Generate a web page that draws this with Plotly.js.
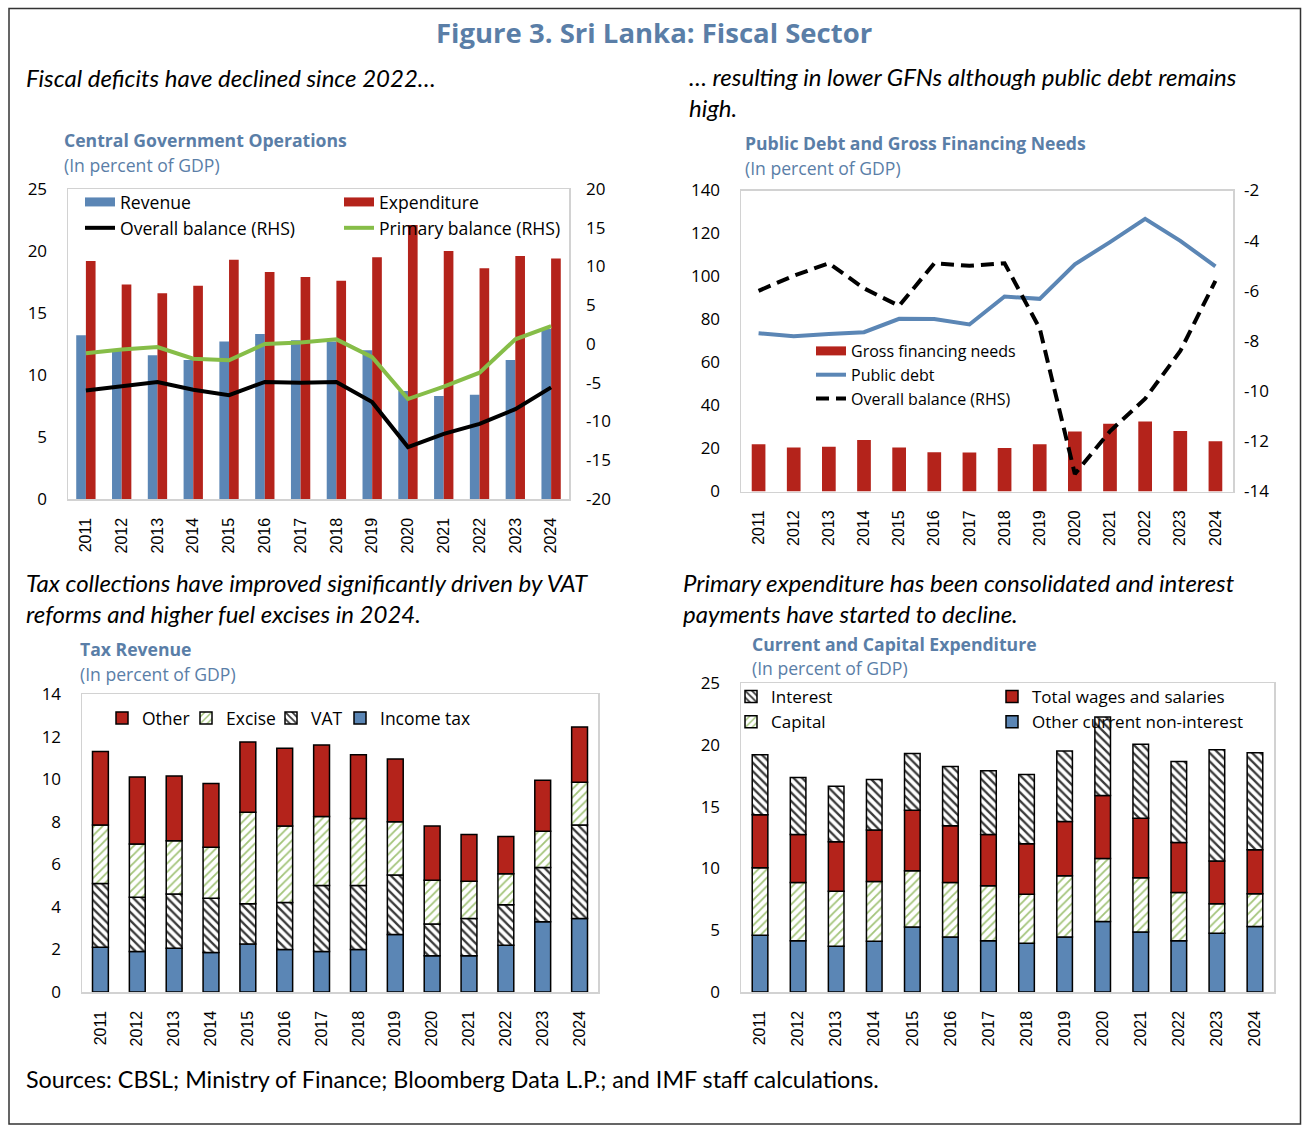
<!DOCTYPE html>
<html><head><meta charset="utf-8">
<script src="https://cdn.plot.ly/plotly-3.0.1.min.js"></script>
<style>html,body{margin:0;padding:0;background:#fff}#chart{width:1310px;height:1136px}</style>
</head><body><div id="chart"></div>
<script>
// ---------------- DATA ----------------
const years = ['2011','2012','2013','2014','2015','2016','2017','2018','2019','2020','2021','2022','2023','2024'];

// Central Government Operations (percent of GDP)
const revenue        = [13.2, 12.0, 11.6, 11.2, 12.7, 13.3, 12.8, 12.7, 12.0, 8.7, 8.3, 8.4, 11.2, 13.7];
const expenditure    = [19.2, 17.3, 16.6, 17.2, 19.3, 18.3, 17.9, 17.6, 19.5, 22.1, 20.0, 18.6, 19.6, 19.4];
const overallBalance = [-6.0, -5.4, -4.9, -5.9, -6.6, -4.9, -5.0, -4.9, -7.5, -13.3, -11.6, -10.3, -8.4, -5.6];
const primaryBalance = [-1.2, -0.7, -0.4, -1.9, -2.1, 0.0, 0.2, 0.6, -1.7, -7.1, -5.5, -3.7, 0.6, 2.3];

// Public Debt and Gross Financing Needs (percent of GDP)
const grossFinancingNeeds = [22.0, 20.5, 20.8, 23.9, 20.5, 18.3, 18.1, 20.2, 22.0, 27.9, 31.5, 32.6, 28.1, 23.4];
const publicDebt          = [73.6, 72.2, 73.2, 74.1, 80.3, 80.2, 77.7, 90.7, 89.6, 105.7, 116.0, 126.8, 116.6, 104.7];

// Tax Revenue (percent of GDP)
const incomeTax = [2.1, 1.9, 2.05, 1.85, 2.25, 2.0, 1.9, 2.0, 2.7, 1.7, 1.7, 2.2, 3.3, 3.45];
const vat       = [3.0, 2.55, 2.55, 2.55, 1.9, 2.2, 3.1, 3.0, 2.8, 1.5, 1.75, 1.9, 2.55, 4.4];
const excise    = [2.75, 2.5, 2.5, 2.4, 4.3, 3.6, 3.25, 3.15, 2.5, 2.05, 1.75, 1.45, 1.7, 2.0];
const otherTax  = [3.45, 3.15, 3.05, 3.0, 3.3, 3.65, 3.35, 3.0, 2.95, 2.55, 2.2, 1.75, 2.4, 2.6];

// Current and Capital Expenditure (percent of GDP)
const otherCurrentNonInterest = [4.6, 4.15, 3.7, 4.1, 5.25, 4.45, 4.15, 3.95, 4.45, 5.7, 4.85, 4.15, 4.75, 5.3];
const capitalExp              = [5.45, 4.7, 4.45, 4.85, 4.55, 4.4, 4.45, 3.95, 4.95, 5.1, 4.4, 3.9, 2.4, 2.65];
const wagesSalaries           = [4.3, 3.9, 4.0, 4.15, 4.9, 4.6, 4.15, 4.1, 4.4, 5.1, 4.8, 4.05, 3.45, 3.55];
const interestExp             = [4.85, 4.6, 4.5, 4.1, 4.6, 4.8, 5.15, 5.6, 5.7, 6.35, 6.0, 6.55, 9.0, 7.85];

// Right-hand axis tick values
const rhsTicks1 = [-20, -15, -10, -5, 0, 5, 10, 15, 20];
const rhsTicks2 = [-14, -12, -10, -8, -6, -4, -2];

// ---------------- STYLE ----------------
const W = 1310, H = 1136;
const px = v => v / W;
const py = v => 1 - v / H;
const BLUE = '#5b86b5', RED = '#b4231b', GREEN = '#86bd48', TBLUE = '#5a7ea7', FRAME = '#d2d2d2';
const SANS = 'Open Sans, Noto Sans, sans-serif';
const CAL = 'Lato, Carlito, sans-serif';
const ARIAL = 'Liberation Sans, Arial, sans-serif';

function addArr(a, b) { return a.map((v, i) => v + b[i]); }

const hatchDark = {shape: '\\', fgcolor: '#3a3a3a', bgcolor: '#ffffff', size: 6, solidity: 0.38};
const hatchGreen = {shape: '/', fgcolor: '#a3c47a', bgcolor: '#ffffff', size: 6, solidity: 0.3};
const outline = {color: '#000', width: 1.5};

const traces = [];
// ---- Chart 1 ----
traces.push({type: 'bar', x: years, y: revenue, xaxis: 'x', yaxis: 'y', width: 0.27, offset: -0.27,
  marker: {color: BLUE}, showlegend: false, name: 'Revenue'});
traces.push({type: 'bar', x: years, y: expenditure, xaxis: 'x', yaxis: 'y', width: 0.27, offset: 0,
  marker: {color: RED}, showlegend: false, name: 'Expenditure'});
traces.push({type: 'scatter', mode: 'lines', x: years, y: overallBalance, xaxis: 'x', yaxis: 'y2',
  line: {color: '#000', width: 4}, name: 'Overall balance (RHS)', legend: 'legend', legendrank: 2});
traces.push({type: 'scatter', mode: 'lines', x: years, y: primaryBalance, xaxis: 'x', yaxis: 'y2',
  line: {color: GREEN, width: 4}, name: 'Primary balance (RHS)', legend: 'legend2', legendrank: 2});
traces.push({type: 'scatter', mode: 'lines', x: [null], y: [null], xaxis: 'x', yaxis: 'y',
  line: {color: BLUE, width: 9}, name: 'Revenue', legend: 'legend', legendrank: 1, hoverinfo: 'skip'});
traces.push({type: 'scatter', mode: 'lines', x: [null], y: [null], xaxis: 'x', yaxis: 'y',
  line: {color: RED, width: 9}, name: 'Expenditure', legend: 'legend2', legendrank: 1, hoverinfo: 'skip'});

// ---- Chart 2 ----
traces.push({type: 'bar', x: years, y: grossFinancingNeeds, xaxis: 'x2', yaxis: 'y3', width: 0.39,
  marker: {color: RED}, showlegend: false, name: 'Gross financing needs'});
traces.push({type: 'scatter', mode: 'lines', x: [null], y: [null], xaxis: 'x2', yaxis: 'y3',
  line: {color: RED, width: 9}, name: 'Gross financing needs', legend: 'legend3', legendrank: 1, hoverinfo: 'skip'});
traces.push({type: 'scatter', mode: 'lines', x: years, y: publicDebt, xaxis: 'x2', yaxis: 'y3',
  line: {color: BLUE, width: 4}, name: 'Public debt', legend: 'legend3', legendrank: 2});
traces.push({type: 'scatter', mode: 'lines', x: years, y: overallBalance, xaxis: 'x2', yaxis: 'y4',
  line: {color: '#000', width: 4, dash: '13px,7px'}, name: 'Overall balance (RHS)', legend: 'legend3', legendrank: 3});

// ---- Chart 3 (stacked) ----
const t1 = incomeTax, t2 = addArr(t1, vat), t3 = addArr(t2, excise);
traces.push({type: 'bar', x: years, y: incomeTax, base: 0, xaxis: 'x3', yaxis: 'y5', width: 0.43,
  marker: {color: BLUE, line: outline}, name: 'Income tax', legend: 'legend4'});
traces.push({type: 'bar', x: years, y: vat, base: t1, xaxis: 'x3', yaxis: 'y5', width: 0.43,
  marker: {color: '#fff', line: outline, pattern: hatchDark}, name: 'VAT', legend: 'legend4', legendwidth: 24});
traces.push({type: 'bar', x: years, y: excise, base: t2, xaxis: 'x3', yaxis: 'y5', width: 0.43,
  marker: {color: '#fff', line: outline, pattern: hatchGreen}, name: 'Excise', legend: 'legend4', legendwidth: 40});
traces.push({type: 'bar', x: years, y: otherTax, base: t3, xaxis: 'x3', yaxis: 'y5', width: 0.43,
  marker: {color: RED, line: outline}, name: 'Other', legend: 'legend4', legendwidth: 39});

// ---- Chart 4 (stacked) ----
const e1 = otherCurrentNonInterest, e2 = addArr(e1, capitalExp), e3 = addArr(e2, wagesSalaries);
traces.push({type: 'bar', x: years, y: otherCurrentNonInterest, base: 0, xaxis: 'x4', yaxis: 'y6', width: 0.41,
  marker: {color: BLUE, line: outline}, name: 'Other current non-interest', legend: 'legend6'});
traces.push({type: 'bar', x: years, y: capitalExp, base: e1, xaxis: 'x4', yaxis: 'y6', width: 0.41,
  marker: {color: '#fff', line: outline, pattern: hatchGreen}, name: 'Capital', legend: 'legend5'});
traces.push({type: 'bar', x: years, y: wagesSalaries, base: e2, xaxis: 'x4', yaxis: 'y6', width: 0.41,
  marker: {color: RED, line: outline}, name: 'Total wages and salaries', legend: 'legend6'});
traces.push({type: 'bar', x: years, y: interestExp, base: e3, xaxis: 'x4', yaxis: 'y6', width: 0.41,
  marker: {color: '#fff', line: outline, pattern: hatchDark}, name: 'Interest', legend: 'legend5'});

// ---------------- LAYOUT ----------------
function xAx(x0, x1, anchor) {
  return {domain: [px(x0), px(x1)], anchor: anchor, type: 'category', categoryarray: years,
    showline: true, linecolor: FRAME, linewidth: 1.5, mirror: true, ticks: '', tickangle: -90,
    ticklabelstandoff: 11, tickfont: {family: ARIAL, size: 16, color: '#000'},
    showgrid: false, zeroline: false, fixedrange: true};
}
function yAx(y0, y1, anchor, range, dtick) {
  return {domain: [py(y1), py(y0)], anchor: anchor, range: range, dtick: dtick,
    showline: true, linecolor: FRAME, linewidth: 1.5, mirror: true, ticks: '',
    ticklabelstandoff: 16, tickfont: {family: SANS, size: 17, color: '#000'},
    showgrid: false, zeroline: false, fixedrange: true};
}
function yRight(overlay, anchor, range, ticks, standoff) {
  return {overlaying: overlay, anchor: anchor, side: 'right', range: range,
    tickmode: 'array', tickvals: ticks, ticktext: ticks.map(v => String(v)),
    showline: false, ticks: '', ticklabelstandoff: standoff,
    tickfont: {family: SANS, size: 17, color: '#000'},
    showgrid: false, zeroline: false, fixedrange: true};
}
function leg(x, y, size, extra) {
  return Object.assign({x: px(x), y: py(y), xanchor: 'left', yanchor: 'top', bgcolor: 'rgba(0,0,0,0)',
    borderwidth: 0, font: {family: SANS, size: size, color: '#000'}, itemwidth: 30,
    traceorder: 'normal', itemclick: false, itemdoubleclick: false}, extra || {});
}
function ann(text, x, y, font, extra) {
  return Object.assign({text: text, xref: 'paper', yref: 'paper', x: px(x), y: py(y),
    xanchor: 'left', yanchor: 'middle', showarrow: false, align: 'left', font: font}, extra || {});
}
const fSub = {family: CAL, size: 24, color: '#000', style: 'italic'};
const fTitle = {family: SANS, size: 17.6, color: TBLUE, weight: 'bold'};
const fUnit = {family: SANS, size: 17.6, color: TBLUE};

const layout = {
  width: W, height: H, margin: {l: 0, r: 0, t: 0, b: 0},
  paper_bgcolor: '#fff', plot_bgcolor: 'rgba(0,0,0,0)',
  barmode: 'overlay', hovermode: false,
  xaxis: xAx(68, 569, 'y'),
  yaxis: yAx(189, 499, 'x', [0, 25], 5),
  yaxis2: yRight('y', 'x', [-20, 20], rhsTicks1, 16),
  xaxis2: xAx(741, 1233, 'y3'),
  yaxis3: yAx(190.5, 491.5, 'x2', [0, 140], 20),
  yaxis4: yRight('y3', 'x2', [-14, -2], rhsTicks2, 10),
  xaxis3: xAx(82, 598, 'y5'),
  yaxis5: yAx(694, 992, 'x3', [0, 14], 2),
  xaxis4: xAx(741, 1274, 'y6'),
  yaxis6: yAx(683, 992, 'x4', [0, 25], 5),
  legend:  leg(80, 184, 17.6),
  legend2: leg(339, 184, 17.6),
  legend3: leg(811, 334, 16),
  legend4: leg(102, 700, 17.5, {orientation: 'h', traceorder: 'reversed', entrywidthmode: 'pixels'}),
  legend5: leg(731, 679, 17, {traceorder: 'reversed'}),
  legend6: leg(992, 679, 17, {traceorder: 'reversed'}),
  shapes: [{type: 'rect', xref: 'paper', yref: 'paper', x0: px(9), x1: px(1300.5), y0: py(1124), y1: py(8.5),
    line: {color: '#333', width: 1.5}, fillcolor: 'rgba(0,0,0,0)'}],
  annotations: [
    ann('Figure 3. Sri Lanka: Fiscal Sector', 654, 33, {family: SANS, size: 27.5, color: TBLUE, weight: 'bold'}, {xanchor: 'center'}),
    ann('Fiscal deficits have declined since 2022…', 24, 77, fSub),
    ann('… resulting in lower GFNs although public debt remains<br>high.', 687, 91.5, fSub),
    ann('Tax collections have improved significantly driven by VAT<br>reforms and higher fuel excises in 2024.', 24, 597.5, fSub),
    ann('Primary expenditure has been consolidated and interest<br>payments have started to decline.', 681, 597.5, fSub),
    ann('Central Government Operations', 62, 140, fTitle),
    ann('(In percent of GDP)', 62, 165, fUnit),
    ann('Public Debt and Gross Financing Needs', 743, 143, fTitle),
    ann('(In percent of GDP)', 743, 168, fUnit),
    ann('Tax Revenue', 78, 649, fTitle),
    ann('(In percent of GDP)', 78, 674, fUnit),
    ann('Current and Capital Expenditure', 750, 644, fTitle),
    ann('(In percent of GDP)', 750, 668, fUnit),
    ann('Sources: CBSL; Ministry of Finance; Bloomberg Data L.P.; and IMF staff calculations.', 24, 1079,
      {family: CAL, size: 23.3, color: '#000'})
  ]
};

Plotly.newPlot('chart', traces, layout, {displayModeBar: false, staticPlot: true});
</script></body></html>
